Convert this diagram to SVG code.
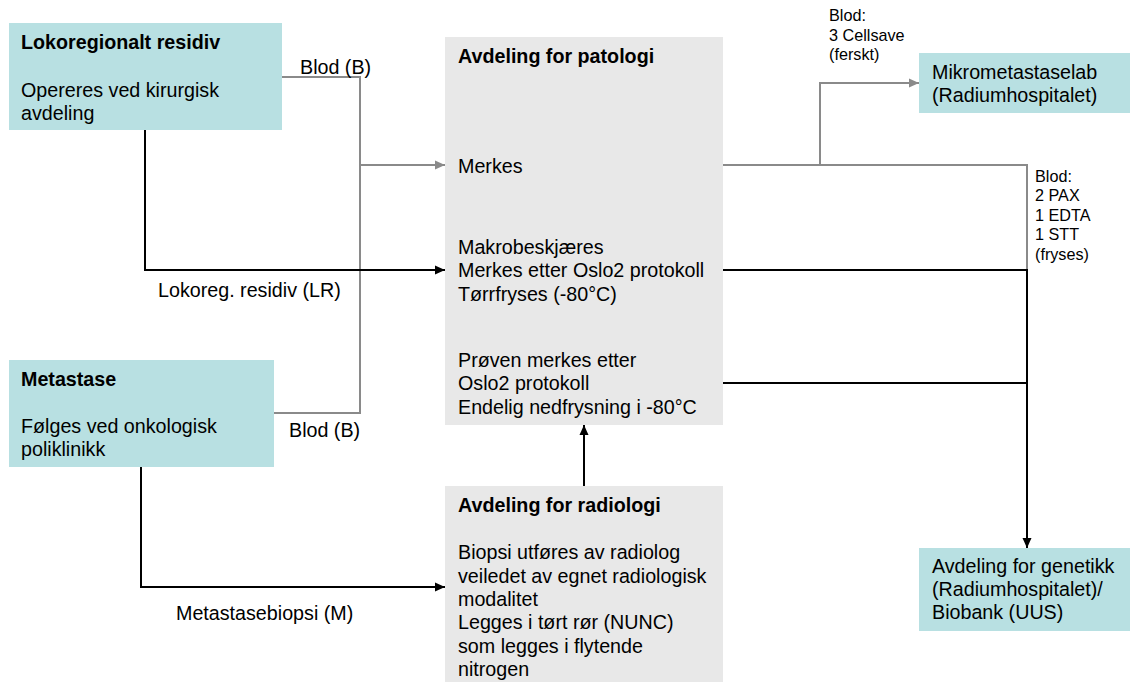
<svg xmlns="http://www.w3.org/2000/svg" width="1130" height="682" viewBox="0 0 1130 682">
<style>
text{font-family:"Liberation Sans",Arial,sans-serif;font-size:19.7px;fill:#000}
.b{font-weight:bold}
.s{font-size:16.2px}
.teal{fill:#b8e0e2}
.grey{fill:#e8e8e8}
.lg{fill:none;stroke:#8a8a8a;stroke-width:2}
.lb{fill:none;stroke:#000;stroke-width:2}
</style>
<defs>
<marker id="ab" viewBox="0 0 10 10" refX="10" refY="5" markerWidth="10" markerHeight="10" markerUnits="userSpaceOnUse" orient="auto"><path d="M0,0.5 L10,5 L0,9.5 Z" fill="#000"/></marker>
<marker id="ag" viewBox="0 0 10 10" refX="10" refY="5" markerWidth="10" markerHeight="10" markerUnits="userSpaceOnUse" orient="auto"><path d="M0,0.5 L10,5 L0,9.5 Z" fill="#8a8a8a"/></marker>
</defs>

<g id="lokoregionalt">
<rect class="teal" x="9" y="23" width="273" height="107"/>
<text class="b" x="21" y="49">Lokoregionalt residiv</text>
<text x="21" y="97">Opereres ved kirurgisk</text>
<text x="21" y="119.5">avdeling</text>
</g>

<g id="metastase">
<rect class="teal" x="9" y="360" width="265" height="107"/>
<text class="b" x="21" y="386">Metastase</text>
<text x="21" y="433">Følges ved onkologisk</text>
<text x="21" y="456">poliklinikk</text>
</g>

<g id="patologi">
<rect class="grey" x="445" y="37" width="278" height="388"/>
<text class="b" x="458" y="63">Avdeling for patologi</text>
<text x="458" y="173">Merkes</text>
<text x="458" y="254">Makrobeskjæres</text>
<text x="458" y="277.3">Merkes etter Oslo2 protokoll</text>
<text x="458" y="300.6">Tørrfryses (-80°C)</text>
<text x="458" y="367">Prøven merkes etter</text>
<text x="458" y="390.3">Oslo2 protokoll</text>
<text x="458" y="413.6">Endelig nedfrysning i -80°C</text>
</g>

<g id="radiologi">
<rect class="grey" x="445" y="486" width="278" height="196"/>
<text class="b" x="458" y="512">Avdeling for radiologi</text>
<text x="458" y="559.3">Biopsi utføres av radiolog</text>
<text x="458" y="582.7">veiledet av egnet radiologisk</text>
<text x="458" y="606">modalitet</text>
<text x="458" y="629.4">Legges i tørt rør (NUNC)</text>
<text x="458" y="652.7">som legges i flytende</text>
<text x="458" y="676">nitrogen</text>
</g>

<g id="mikrometastaselab">
<rect class="teal" x="919" y="53" width="211" height="60"/>
<text x="932" y="79">Mikrometastaselab</text>
<text x="932" y="101.5">(Radiumhospitalet)</text>
</g>

<g id="genetikk">
<rect class="teal" x="919" y="548" width="211" height="83"/>
<text x="932" y="573">Avdeling for genetikk</text>
<text x="932" y="596">(Radiumhospitalet)/</text>
<text x="932" y="619">Biobank (UUS)</text>
</g>

<g id="connectors">
<path class="lg" d="M282,77 H360 V413 H274"/>
<path class="lg" d="M360,165 H445" marker-end="url(#ag)"/>
<path class="lg" d="M723,165 H1027 V270"/>
<path class="lg" d="M820,165 V83 H919" marker-end="url(#ag)"/>
<path class="lb" d="M145,130 V270 H445" marker-end="url(#ab)"/>
<path class="lb" d="M141,467 V587 H445" marker-end="url(#ab)"/>
<path class="lb" d="M584,486 V425" marker-end="url(#ab)"/>
<path class="lb" d="M723,270 H1027 V548" marker-end="url(#ab)"/>
<path class="lb" d="M723,383 H1027"/>
</g>

<g id="labels">
<text x="300" y="73.5">Blod (B)</text>
<text x="158" y="296.5">Lokoreg. residiv (LR)</text>
<text x="289" y="437">Blod (B)</text>
<text x="176" y="620">Metastasebiopsi (M)</text>
<text class="s" x="829" y="21">Blod:</text>
<text class="s" x="829" y="40.5">3 Cellsave</text>
<text class="s" x="829" y="60">(ferskt)</text>
<text class="s" x="1035" y="181.5">Blod:</text>
<text class="s" x="1035" y="201">2 PAX</text>
<text class="s" x="1035" y="220.5">1 EDTA</text>
<text class="s" x="1035" y="240">1 STT</text>
<text class="s" x="1035" y="259.5">(fryses)</text>
</g>
</svg>
